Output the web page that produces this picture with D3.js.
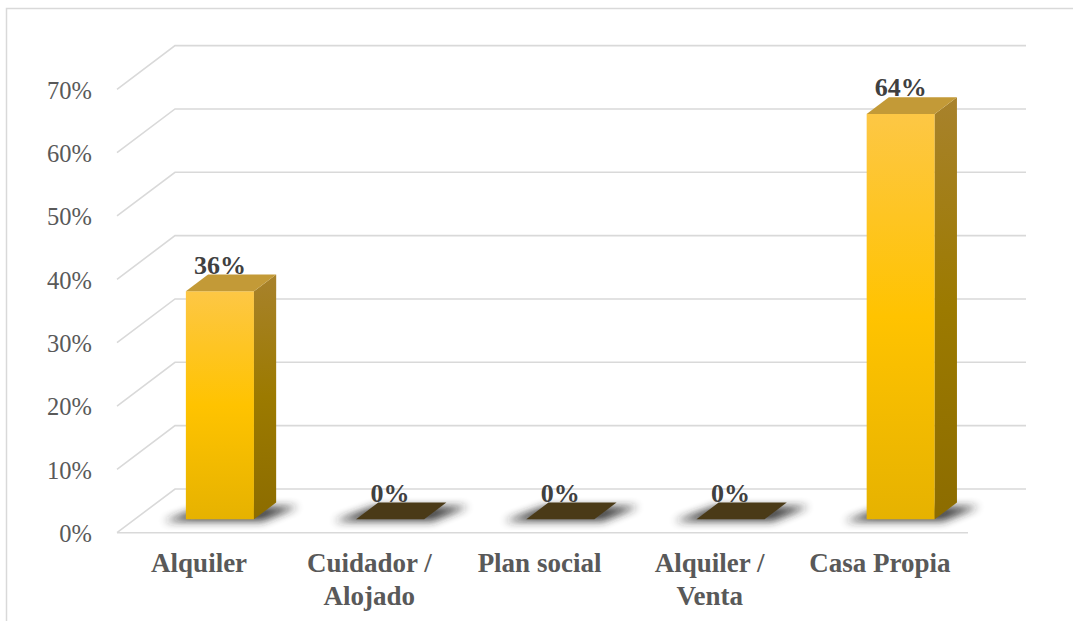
<!DOCTYPE html>
<html>
<head>
<meta charset="utf-8">
<script src="https://cdn.jsdelivr.net/npm/d3@7"></script>
<style>
  html, body { margin: 0; padding: 0; background: #fff; }
  svg { display: block; }
</style>
</head>
<body>
<svg id="chart" width="1073" height="621"></svg>
<script>
// Housing situation shares
const categories = ["Alquiler", "Cuidador / Alojado", "Plan social", "Alquiler / Venta", "Casa Propia"];
const values = [36, 0, 0, 0, 64];
const valueLabels = ["36%", "0%", "0%", "0%", "64%"];
const yTicks = [0, 10, 20, 30, 40, 50, 60, 70];

const svg = d3.select("#chart");

// 3D frame: front-left corner of the floor and the depth vector toward the back wall
const floorX = 117, floorY = 532.7;
const floorW = 851;
const depth = { dx: 58, dy: -43.7 };
const barDepth0 = 0.307, barDepth1 = 0.69;

const x = d3.scaleBand().domain(categories).range([0, floorW]).paddingInner(0.6).paddingOuter(0.3);
const h = d3.scaleLinear().domain([0, 70]).range([0, 443.4]);

const defs = svg.append("defs");
const frontGrad = defs.append("linearGradient").attr("id", "front").attr("x1", 0).attr("y1", 0).attr("x2", 0).attr("y2", 1);
frontGrad.append("stop").attr("offset", "0%").attr("stop-color", "#FDC745");
frontGrad.append("stop").attr("offset", "50%").attr("stop-color", "#FFC300");
frontGrad.append("stop").attr("offset", "100%").attr("stop-color", "#E6B200");
const sideGrad = defs.append("linearGradient").attr("id", "side").attr("x1", 0).attr("y1", 0).attr("x2", 0).attr("y2", 1);
sideGrad.append("stop").attr("offset", "0%").attr("stop-color", "#A8822C");
sideGrad.append("stop").attr("offset", "50%").attr("stop-color", "#9C7A00");
sideGrad.append("stop").attr("offset", "100%").attr("stop-color", "#8C6C00");
defs.append("filter").attr("id", "soft").attr("x", "-50%").attr("y", "-100%").attr("width", "200%").attr("height", "300%")
  .append("feGaussianBlur").attr("stdDeviation", 4.5);

// Chart area border
svg.append("rect").attr("x", 6.5).attr("y", 8.5).attr("width", 1200).attr("height", 700)
  .attr("fill", "none").attr("stroke", "#d9d9d9").attr("stroke-width", 1.5);

// Gridlines: side wall diagonal + back wall horizontal
const grid = svg.append("g").attr("fill", "none").attr("stroke", "#d9d9d9").attr("stroke-width", 1.6);
yTicks.forEach(t => {
  const yf = floorY - h(t);
  const p = d3.path();
  p.moveTo(floorX, yf);
  p.lineTo(floorX + depth.dx, yf + depth.dy);
  p.lineTo(floorX + depth.dx + floorW, yf + depth.dy);
  grid.append("path").attr("d", p.toString());
});
// Floor front edge
grid.append("line").attr("x1", floorX).attr("y1", floorY).attr("x2", floorX + floorW).attr("y2", floorY);

// Bars
const bw = x.bandwidth();
const ddx = (barDepth1 - barDepth0) * depth.dx;
const ddy = (barDepth1 - barDepth0) * depth.dy;
const bars = svg.append("g");
categories.forEach((c, i) => {
  const v = values[i];
  const bx = floorX + barDepth0 * depth.dx + x(c);
  const by = floorY + barDepth0 * depth.dy;
  const top = by - h(v);
  const g = bars.append("g");
  // soft floor shadow under the footprint
  g.append("polygon")
    .attr("points", [[bx - 22, by + 2], [bx + bw + 8, by + 2], [bx + bw + ddx + 22, by + ddy + 4], [bx + ddx - 4, by + ddy + 4]].map(p => p.join(",")).join(" "))
    .attr("fill", "#222").attr("opacity", 0.85).attr("filter", "url(#soft)");
  if (v > 0) {
    g.append("rect").attr("x", bx).attr("y", top).attr("width", bw).attr("height", h(v)).attr("fill", "url(#front)");
    g.append("polygon")
      .attr("points", [[bx + bw, top], [bx + bw + ddx, top + ddy], [bx + bw + ddx, by + ddy], [bx + bw, by]].map(p => p.join(",")).join(" "))
      .attr("fill", "url(#side)");
    g.append("polygon")
      .attr("points", [[bx, top], [bx + bw, top], [bx + bw + ddx, top + ddy], [bx + ddx, top + ddy]].map(p => p.join(",")).join(" "))
      .attr("fill", "#C39A37");
  } else {
    g.append("polygon")
      .attr("points", [[bx, top], [bx + bw, top], [bx + bw + ddx, top + ddy], [bx + ddx, top + ddy]].map(p => p.join(",")).join(" "))
      .attr("fill", "#4A3A17");
  }
  // value label
  svg.append("text")
    .attr("x", bx + bw / 2).attr("y", top + ddy - 1)
    .attr("text-anchor", "middle")
    .attr("font-family", "'Liberation Serif', 'Times New Roman', serif")
    .attr("font-weight", "bold").attr("font-size", 26).attr("fill", "#404040")
    .text(valueLabels[i]);
});

// Y axis labels along the front edge of the side wall
const yAxisScale = d3.scaleLinear().domain([0, 70]).range([floorY, floorY - 443.4]);
const yAxis = svg.append("g").attr("transform", `translate(${floorX},0)`)
  .call(d3.axisLeft(yAxisScale).tickValues(yTicks).tickSize(0).tickPadding(25).tickFormat(d => d + "%"));
yAxis.select(".domain").remove();
yAxis.selectAll("text")
  .attr("font-family", "'Liberation Serif', 'Times New Roman', serif")
  .attr("font-size", 24.5).attr("fill", "#595959").attr("dy", "0.36em");

// Category labels along the floor front edge
const xAxis = svg.append("g").attr("transform", `translate(${floorX - 3},${floorY})`)
  .call(d3.axisBottom(x).tickSize(0).tickPadding(0));
xAxis.select(".domain").remove();
xAxis.selectAll("text").each(function(d) {
  const t = d3.select(this);
  t.text(null).attr("y", 39).attr("dy", 0)
    .attr("font-family", "'Liberation Serif', 'Times New Roman', serif")
    .attr("font-weight", "bold").attr("font-size", 27).attr("fill", "#595959");
  const parts = d.includes(" / ") ? [d.split(" / ")[0] + " /", d.split(" / ")[1]] : [d];
  parts.forEach((s, k) => {
    t.append("tspan").attr("x", 0).attr("dy", k === 0 ? 0 : 33).text(s);
  });
});
</script>
</body>
</html>
